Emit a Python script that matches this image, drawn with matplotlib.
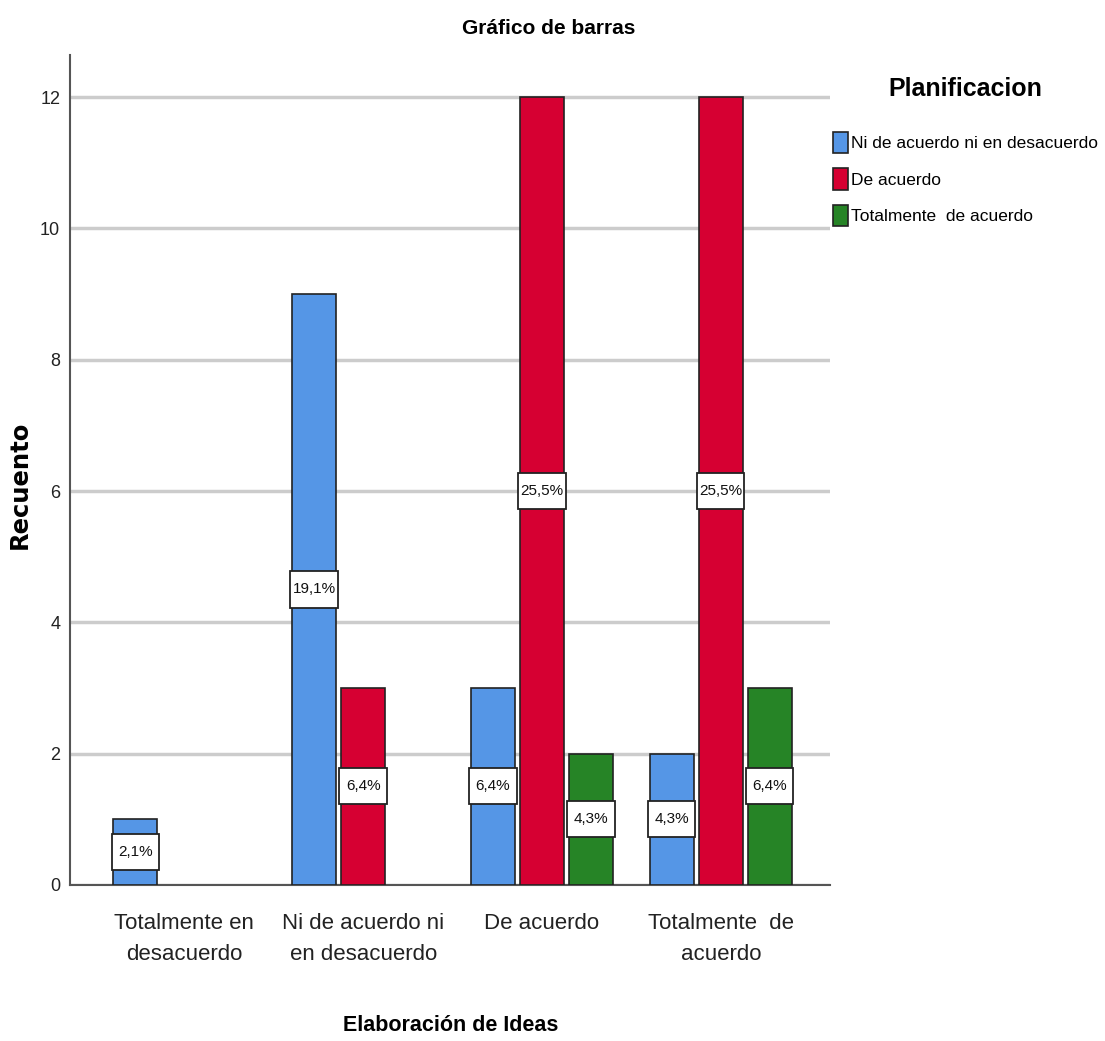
import matplotlib
matplotlib.use("Agg")
import matplotlib.pyplot as plt
from matplotlib.patches import Rectangle
import numpy as np

categories = ["Totalmente en\ndesacuerdo", "Ni de acuerdo ni\nen desacuerdo", "De acuerdo", "Totalmente  de\nacuerdo"]
series_names = ["Ni de acuerdo ni en desacuerdo", "De acuerdo", "Totalmente  de acuerdo"]
blue_vals = [1, 9, 3, 2]
red_vals = [0, 3, 12, 12]
green_vals = [0, 0, 2, 3]
blue_pct = ["2,1%", "19,1%", "6,4%", "4,3%"]
red_pct = ["", "6,4%", "25,5%", "25,5%"]
green_pct = ["", "", "4,3%", "6,4%"]
yticks = [0, 2, 4, 6, 8, 10, 12]

colors = ["#5596e6", "#d60032", "#268426"]

plt.rcParams['font.family'] = ['Liberation Sans', 'DejaVu Sans']

fig = plt.figure(figsize=(11.05, 10.41), dpi=100)
ax = fig.add_axes([0.0633, 0.15, 0.6877, 0.797])

x = np.arange(len(categories))
width = 0.246
offset = 0.274
all_vals = [blue_vals, red_vals, green_vals]
all_pct = [blue_pct, red_pct, green_pct]
for i, (vals, pcts) in enumerate(zip(all_vals, all_pct)):
    pos = x + (i - 1) * offset
    hv = [v if v > 0 else np.nan for v in vals]
    ax.bar(pos, hv, width, color=colors[i], edgecolor="#222222", linewidth=1.2,
           label=series_names[i], zorder=3)
    for p, v, t in zip(pos, vals, pcts):
        if v > 0 and t:
            bw, bh = 0.265, 0.55
            ax.add_patch(Rectangle((p - bw / 2, v / 2 - bh / 2), bw, bh, facecolor="white",
                                   edgecolor="#222222", linewidth=1.3, zorder=4))
            ax.text(p, v / 2, t, ha="center", va="center", fontsize=11, zorder=5, color="#111111")

ax.set_xlim(-0.64, 3.61)
ax.set_ylim(0, 12.64)
ax.set_yticks(yticks)
ax.set_yticklabels([str(t) for t in yticks], fontsize=13, color="#222222")
ax.set_xticks(x)
ax.set_xticklabels(categories, fontsize=16, color="#222222", linespacing=1.65)
ax.tick_params(axis="both", length=0, pad=7)
ax.tick_params(axis="x", pad=20)
ax.yaxis.grid(True, color="#cccccc", linewidth=2.5, zorder=0)
ax.set_axisbelow(True)
for s in ["top", "right"]:
    ax.spines[s].set_visible(False)
for s in ["left", "bottom"]:
    ax.spines[s].set_color("#555555")
    ax.spines[s].set_linewidth(1.5)

fig.text(0.497, 0.973, "Gráfico de barras", ha="center", va="center", fontsize=15, fontweight="bold")
fig.text(0.018, 0.534, "Recuento", ha="center", va="center", rotation=90, fontsize=17.5, fontweight="bold",
         family=['DejaVu Sans'])
fig.text(0.408, 0.015, "Elaboración de Ideas", ha="center", va="center", fontsize=15.5, fontweight="bold")

leg = ax.legend(loc="upper left", bbox_to_anchor=(0.754, 0.926), bbox_transform=fig.transFigure,
                frameon=False, fontsize=12.5, title="Planificacion",
                title_fontproperties={"weight": "bold", "size": 18},
                handlelength=0.85, handleheight=1.55, handletextpad=0.2, labelspacing=0.85,
                borderaxespad=0, borderpad=0)
leg._legend_box.sep = 22
for h in leg.legend_handles:
    h.set_edgecolor("#222222")
    h.set_linewidth(1.2)

fig.savefig("out.png", dpi=100)
